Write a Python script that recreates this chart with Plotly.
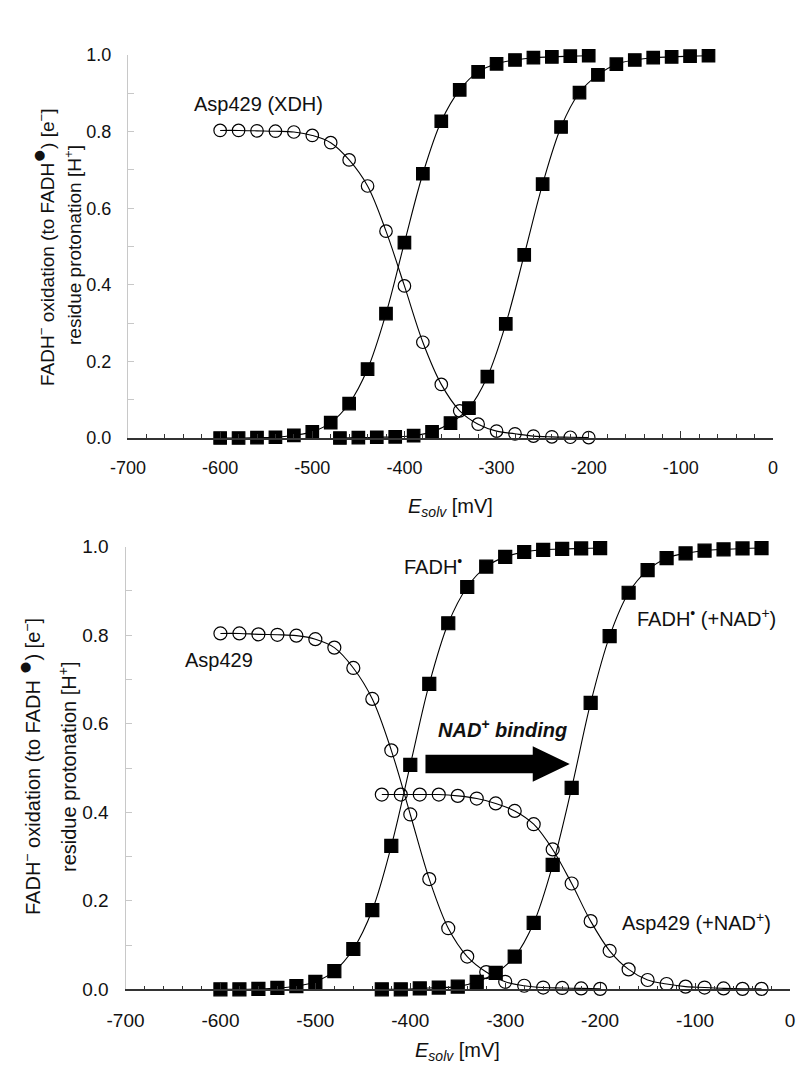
import plotly.graph_objects as go

# ---------------- data (top panel) ----------------
e_xdh = list(range(-600, -199, 20))
fadh_xdh = [0.000, 0.000, 0.001, 0.002, 0.007, 0.016, 0.040, 0.090, 0.180, 0.325, 0.510,
            0.690, 0.827, 0.909, 0.956, 0.977, 0.987, 0.993, 0.995, 0.997, 0.998]
asp_xdh = [0.803, 0.803, 0.802, 0.801, 0.799, 0.790, 0.771, 0.726, 0.658, 0.540, 0.397,
           0.250, 0.140, 0.071, 0.036, 0.018, 0.011, 0.005, 0.003, 0.002, 0.001]
e_xo = list(range(-470, -69, 20))
fadh_xo = [0.000, 0.001, 0.002, 0.003, 0.006, 0.016, 0.039, 0.078, 0.160, 0.298, 0.478,
           0.663, 0.812, 0.902, 0.948, 0.976, 0.987, 0.993, 0.995, 0.997, 0.998]

# ---------------- data (bottom panel) ----------------
e_free = list(range(-600, -199, 20))
fadh_free = [0.000, 0.000, 0.001, 0.003, 0.007, 0.017, 0.041, 0.091, 0.179, 0.324, 0.507,
             0.690, 0.827, 0.909, 0.955, 0.977, 0.988, 0.993, 0.995, 0.996, 0.997]
asp_free = [0.804, 0.804, 0.802, 0.801, 0.799, 0.791, 0.772, 0.726, 0.656, 0.540, 0.395,
            0.249, 0.138, 0.074, 0.039, 0.017, 0.008, 0.004, 0.003, 0.002, 0.001]
e_nad = list(range(-430, -29, 20))
fadh_nad = [0.000, 0.000, 0.002, 0.004, 0.006, 0.017, 0.037, 0.074, 0.150, 0.281, 0.455,
            0.647, 0.798, 0.896, 0.947, 0.974, 0.985, 0.991, 0.994, 0.996, 0.997]
asp_nad = [0.440, 0.440, 0.440, 0.440, 0.437, 0.431, 0.420, 0.403, 0.373, 0.316, 0.239,
           0.154, 0.087, 0.045, 0.021, 0.012, 0.006, 0.004, 0.002, 0.001, 0.001]

x_ticks = [-700, -600, -500, -400, -300, -200, -100, 0]
y_ticks = [0.0, 0.2, 0.4, 0.6, 0.8, 1.0]

FONT = "Liberation Sans, Arial, sans-serif"
W, H = 797, 1068

fig = go.Figure()


def add_series(x, y, filled, xa, ya, msize):
    fig.add_trace(go.Scatter(
        x=x, y=y, mode="lines+markers", xaxis=xa, yaxis=ya,
        line=dict(color="black", width=1.1, shape="spline", smoothing=1.0),
        marker=dict(symbol="square" if filled else "circle-open", size=msize,
                    color="black", line=dict(color="black", width=1.2)),
        cliponaxis=False, showlegend=False, hoverinfo="x+y"))


# top
add_series(e_xdh, asp_xdh, False, "x", "y", 12.5)
add_series(e_xdh, fadh_xdh, True, "x", "y", 12.5)
add_series(e_xo, fadh_xo, True, "x", "y", 12.5)
# bottom
add_series(e_free, asp_free, False, "x2", "y2", 13)
add_series(e_nad, asp_nad, False, "x2", "y2", 13)
add_series(e_free, fadh_free, True, "x2", "y2", 13)
add_series(e_nad, fadh_nad, True, "x2", "y2", 13)


def xaxis(domain, anchor, fs):
    return dict(domain=domain, anchor=anchor, range=[-700, 0], tickvals=x_ticks,
                ticktext=[str(v) for v in x_ticks], ticks="inside", ticklen=7,
                tickcolor="#333", tickwidth=1.2, showline=True, linecolor="#333",
                linewidth=1.6, showgrid=False, zeroline=False, automargin=False,
                minor=dict(dtick=20, ticks="inside", ticklen=4, tickcolor="#333", tickwidth=1.2),
                tickfont=dict(family=FONT, size=fs, color="#111"), ticklabelstandoff=13)


def yaxis(domain, anchor, fs):
    return dict(domain=domain, anchor=anchor, range=[0, 1.0], tickvals=y_ticks,
                ticktext=["%.1f" % v for v in y_ticks], ticks="inside", ticklen=6,
                tickcolor="#c8c8c8", showline=True, linecolor="#c8c8c8", linewidth=1,
                showgrid=False, zeroline=False, automargin=False,
                minor=dict(dtick=0.1, ticks="inside", ticklen=6, tickcolor="#c8c8c8"),
                tickfont=dict(family=FONT, size=fs, color="#111"), ticklabelstandoff=12)


top_x = [128 / W, 773 / W]
top_y = [1 - 438 / H, 1 - 55 / H]
bot_x = [125.5 / W, 790 / W]
bot_y = [1 - 989.3 / H, 1 - 546.7 / H]

fig.update_layout(
    width=W, height=H, margin=dict(l=0, r=0, t=0, b=0, autoexpand=False),
    paper_bgcolor="white", plot_bgcolor="white",
    font=dict(family=FONT, color="#111"),
    xaxis=xaxis(top_x, "y", 18), yaxis=yaxis(top_y, "x", 18),
    xaxis2=xaxis(bot_x, "y2", 19), yaxis2=yaxis(bot_y, "x2", 19),
)

ann = []


def label(text, x, y, xr, yr, size=20, **kw):
    ann.append(dict(text=text, x=x, y=y, xref=xr, yref=yr, showarrow=False,
                    font=dict(family=FONT, size=size, color="#111"),
                    xanchor="center", yanchor="middle", **kw))


# top labels
label("Asp429 (XDH)", -558, 0.872, "x", "y")
label("FADH<sup>•</sup> (XDH)", -288, 1.078, "x", "y")
label("FADH<sup>•</sup> (XO)", -97, 1.078, "x", "y")
# bottom labels
label("FADH<sup>•</sup>", -376, 0.958, "x2", "y2")
label("FADH<sup>•</sup> (+NAD<sup>+</sup>)", -88, 0.841, "x2", "y2")
label("Asp429", -601, 0.744, "x2", "y2")
label("Asp429 (+NAD<sup>+</sup>)", -99, 0.153, "x2", "y2")
label("<b><i>NAD<sup>+</sup> binding</i></b>", -303, 0.59, "x2", "y2", size=20)

# axis titles
xt = "<i>E</i><sub><i>solv</i></sub> [mV]"
label(xt, (top_x[0] + top_x[1]) / 2, 1 - 507 / H, "paper", "paper", size=20)
label(xt, (bot_x[0] + bot_x[1]) / 2, 1 - 1051 / H, "paper", "paper", size=20)

dot = '<span style="font-size:23px">●</span>'
yt1_top = "FADH<sup>−</sup> oxidation (to FADH<sup>" + dot + "</sup>) [e<sup>−</sup>]"
yt1_bot = "FADH<sup>−</sup> oxidation (to FADH <sup>" + dot + "</sup>) [e<sup>−</sup>]"
yt2 = "residue protonation [H<sup>+</sup>]"
label(yt1_top, 42 / W, 1 - 247 / H, "paper", "paper", size=19, textangle=-90)
label(yt2, 73 / W, 1 - 245 / H, "paper", "paper", size=19, textangle=-90)
label(yt1_bot, 27 / W, 1 - 767 / H, "paper", "paper", size=20, textangle=-90)
label(yt2, 67 / W, 1 - 767 / H, "paper", "paper", size=20, textangle=-90)

fig.update_layout(annotations=ann)

# NAD+ binding arrow (bottom panel, data coordinates)
arrow_x0, arrow_xh, arrow_xt = -384, -271, -232
arrow_yc, arrow_shaft, arrow_head = 0.509, 0.021, 0.040
path = (f"M {arrow_x0},{arrow_yc - arrow_shaft} L {arrow_xh},{arrow_yc - arrow_shaft} "
        f"L {arrow_xh},{arrow_yc - arrow_head} L {arrow_xt},{arrow_yc} "
        f"L {arrow_xh},{arrow_yc + arrow_head} L {arrow_xh},{arrow_yc + arrow_shaft} "
        f"L {arrow_x0},{arrow_yc + arrow_shaft} Z")
fig.add_shape(type="path", path=path, xref="x2", yref="y2",
              fillcolor="black", line=dict(color="black", width=0))

fig.write_html("out.html", config={"displayModeBar": False},
               post_script="document.body.style.margin='0';document.body.style.overflow='hidden';")
